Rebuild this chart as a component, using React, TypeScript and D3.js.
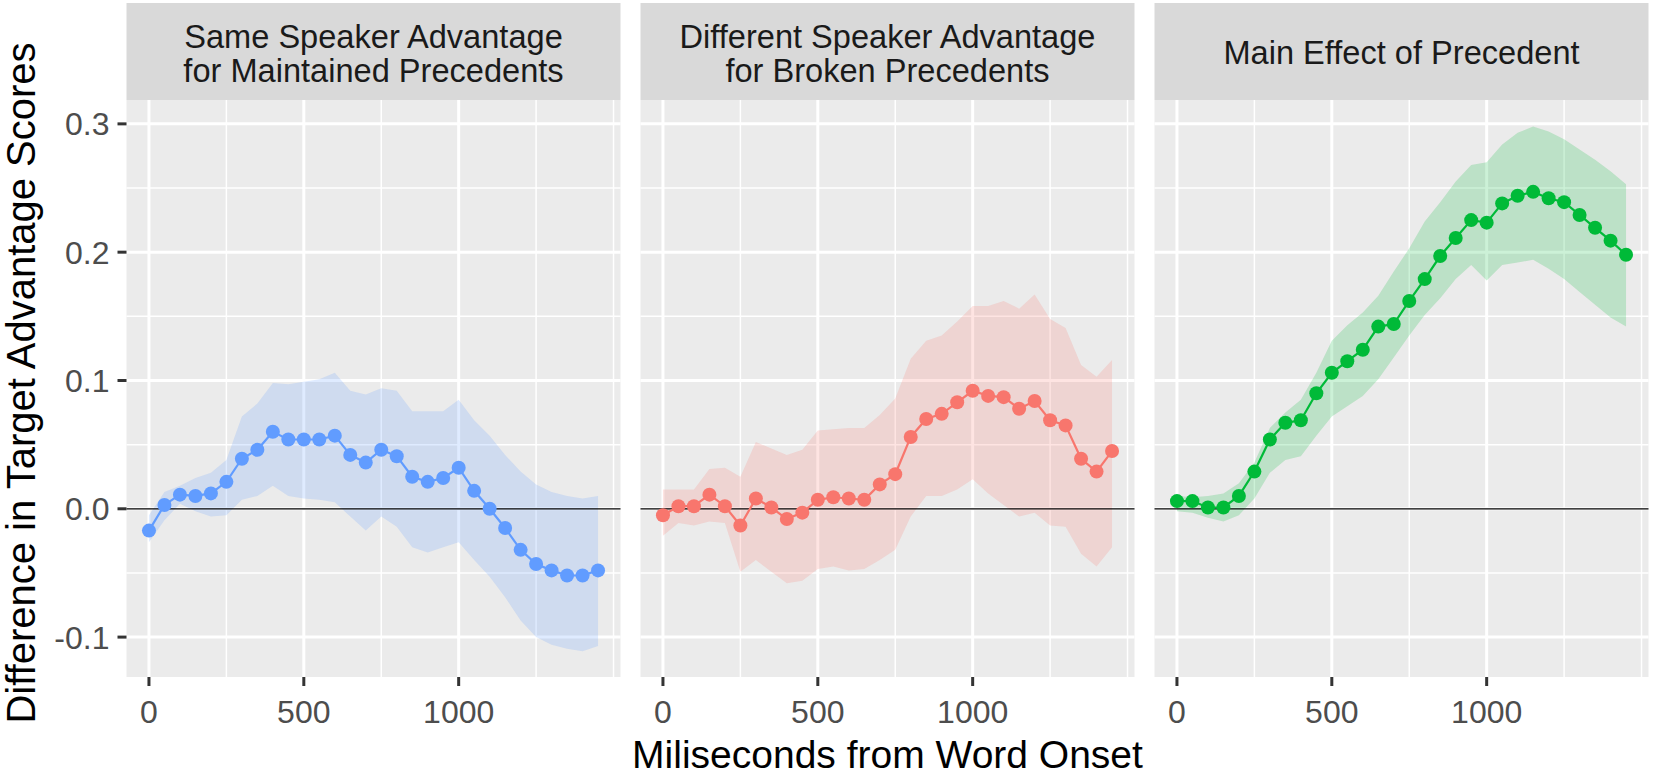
import React from 'react'
import * as d3 from 'd3'

const W = 1655
const H = 781

// time bins (ms from word onset)
const times = [0, 50, 100, 150, 200, 250, 300, 350, 400, 450, 500, 550, 600, 650, 700, 750, 800, 850, 900, 950, 1000, 1050, 1100, 1150, 1200, 1250, 1300, 1350, 1400, 1450]

// Same speaker advantage for maintained precedents
const sameMean = [-0.017, 0.003, 0.011, 0.010, 0.012, 0.021, 0.039, 0.046, 0.060, 0.054, 0.054, 0.054, 0.057, 0.042, 0.036, 0.046, 0.041, 0.025, 0.021, 0.024, 0.032, 0.014, 0.000, -0.015, -0.032, -0.043, -0.048, -0.052, -0.052, -0.048]
const sameLower = [-0.026, -0.009, 0.004, -0.002, -0.006, -0.005, 0.007, 0.010, 0.018, 0.010, 0.008, 0.007, 0.005, -0.006, -0.017, -0.006, -0.014, -0.030, -0.034, -0.030, -0.026, -0.040, -0.053, -0.069, -0.087, -0.100, -0.106, -0.109, -0.111, -0.107]
const sameUpper = [-0.005, 0.013, 0.018, 0.024, 0.028, 0.038, 0.072, 0.082, 0.098, 0.097, 0.099, 0.101, 0.106, 0.092, 0.089, 0.094, 0.092, 0.076, 0.076, 0.076, 0.085, 0.069, 0.057, 0.042, 0.029, 0.019, 0.013, 0.010, 0.008, 0.010]

// Different speaker advantage for broken precedents
const diffMean = [-0.005, 0.002, 0.002, 0.011, 0.002, -0.013, 0.008, 0.001, -0.008, -0.003, 0.007, 0.009, 0.008, 0.007, 0.019, 0.027, 0.056, 0.070, 0.074, 0.083, 0.092, 0.088, 0.087, 0.078, 0.084, 0.069, 0.065, 0.039, 0.029, 0.045]
const diffLower = [-0.021, -0.011, -0.013, -0.010, -0.011, -0.049, -0.040, -0.049, -0.058, -0.056, -0.047, -0.045, -0.048, -0.047, -0.040, -0.032, -0.006, 0.010, 0.010, 0.015, 0.023, 0.012, 0.003, -0.006, -0.003, -0.013, -0.014, -0.035, -0.045, -0.030]
const diffUpper = [0.015, 0.015, 0.015, 0.031, 0.032, 0.025, 0.052, 0.047, 0.042, 0.046, 0.061, 0.062, 0.063, 0.063, 0.073, 0.086, 0.117, 0.131, 0.135, 0.146, 0.158, 0.158, 0.162, 0.156, 0.167, 0.148, 0.141, 0.112, 0.103, 0.116]

// Main effect of precedent
const mainMean = [0.006, 0.006, 0.001, 0.001, 0.010, 0.029, 0.054, 0.067, 0.069, 0.090, 0.106, 0.115, 0.124, 0.142, 0.144, 0.162, 0.179, 0.197, 0.211, 0.225, 0.223, 0.238, 0.244, 0.247, 0.242, 0.239, 0.229, 0.219, 0.209, 0.198]
const mainLower = [-0.002, -0.003, -0.007, -0.010, -0.005, 0.008, 0.028, 0.038, 0.041, 0.057, 0.072, 0.080, 0.088, 0.101, 0.118, 0.135, 0.151, 0.164, 0.179, 0.190, 0.178, 0.190, 0.192, 0.194, 0.187, 0.179, 0.169, 0.159, 0.149, 0.142]
const mainUpper = [0.010, 0.009, 0.010, 0.012, 0.020, 0.036, 0.063, 0.075, 0.085, 0.106, 0.131, 0.143, 0.153, 0.166, 0.185, 0.203, 0.224, 0.239, 0.255, 0.268, 0.270, 0.284, 0.293, 0.298, 0.294, 0.288, 0.280, 0.272, 0.263, 0.253]

const panelTitles = [
  ['Same Speaker Advantage', 'for Maintained Precedents'],
  ['Different Speaker Advantage', 'for Broken Precedents'],
  ['Main Effect of Precedent'],
]
const panelColors = ['#619CFF', '#F8766D', '#00BA38']

const yTicks = [-0.1, 0, 0.1, 0.2, 0.3]
const yTickLabels = ['-0.1', '0.0', '0.1', '0.2', '0.3']
const yMinor = [-0.05, 0.05, 0.15, 0.25]
const xTicks = [0, 500, 1000]
const xTickLabels = ['0', '500', '1000']
const xMinor = [250, 750, 1250, 1500]

const yTitle = 'Difference in Target Advantage Scores'
const xTitle = 'Miliseconds from Word Onset'

const panels = [
  { mean: sameMean, lower: sameLower, upper: sameUpper },
  { mean: diffMean, lower: diffLower, upper: diffUpper },
  { mean: mainMean, lower: mainLower, upper: mainUpper },
]

const FONT = '"Liberation Sans", Arial, sans-serif'

export default function App() {
  const panelLefts = [126.5, 640.5, 1154.5]
  const panelW = 494
  const stripTop = 3
  const top = 100
  const bottom = 677

  const y = d3.scaleLinear().domain([-0.1311, 0.3186]).range([bottom, top])
  const x = d3.scaleLinear().domain([-72.5, 1522.5]).range([0, panelW])

  return (
    <svg width={W} height={H} viewBox={`0 0 ${W} ${H}`}
      style={{ position: 'absolute', left: 0, top: 0, background: '#fff' }}
      fontFamily={FONT}>
      <rect x={0} y={0} width={W} height={H} fill="#fff" />
      {panels.map((p, k) => {
        const left = panelLefts[k]
        const color = panelColors[k]
        const idx = d3.range(times.length)
        const ribbon = d3.area<number>()
          .x(i => x(times[i]))
          .y0(i => y(p.lower[i]))
          .y1(i => y(p.upper[i]))
        const line = d3.line<number>()
          .x(i => x(times[i]))
          .y(i => y(p.mean[i]))
        const lines = panelTitles[k]
        return (
          <g key={k}>
            {/* strip */}
            <rect x={left} y={stripTop} width={panelW} height={top - stripTop} fill="#D9D9D9" />
            {lines.map((t, j) => (
              <text key={j} x={left + panelW / 2}
                y={lines.length === 2 ? (j === 0 ? 47.5 : 81.5) : 63.5}
                textAnchor="middle" fontSize={32.6} fill="#1A1A1A">{t}</text>
            ))}
            <g transform={`translate(${left},0)`}>
              <rect x={0} y={top} width={panelW} height={bottom - top} fill="#EBEBEB" />
              {yMinor.map(v => (
                <line key={'ym' + v} x1={0} x2={panelW} y1={y(v)} y2={y(v)} stroke="#fff" strokeWidth={1.5} />
              ))}
              {xMinor.map(v => (
                <line key={'xm' + v} x1={x(v)} x2={x(v)} y1={top} y2={bottom} stroke="#fff" strokeWidth={1.5} />
              ))}
              {yTicks.map(v => (
                <line key={'y' + v} x1={0} x2={panelW} y1={y(v)} y2={y(v)} stroke="#fff" strokeWidth={3} />
              ))}
              {xTicks.map(v => (
                <line key={'x' + v} x1={x(v)} x2={x(v)} y1={top} y2={bottom} stroke="#fff" strokeWidth={3} />
              ))}
              <path d={ribbon(idx) || ''} fill={color} fillOpacity={0.2} />
              <line x1={0} x2={panelW} y1={y(0)} y2={y(0)} stroke="#000" strokeWidth={1.3} />
              <path d={line(idx) || ''} fill="none" stroke={color} strokeWidth={2.2} />
              {idx.map(i => (
                <circle key={i} cx={x(times[i])} cy={y(p.mean[i])} r={7} fill={color} />
              ))}
              {/* x axis */}
              {xTicks.map((v, j) => (
                <g key={'xt' + v}>
                  <line x1={x(v)} x2={x(v)} y1={bottom} y2={bottom + 9} stroke="#333" strokeWidth={3} />
                  <text x={x(v)} y={723} textAnchor="middle" fontSize={32} fill="#4D4D4D">{xTickLabels[j]}</text>
                </g>
              ))}
            </g>
          </g>
        )
      })}
      {/* y axis, first panel only */}
      {yTicks.map((v, j) => (
        <g key={'yt' + v}>
          <line x1={panelLefts[0] - 9} x2={panelLefts[0]} y1={y(v)} y2={y(v)} stroke="#333" strokeWidth={3} />
          <text x={panelLefts[0] - 17} y={y(v) + 11.5} textAnchor="end" fontSize={32} fill="#4D4D4D">{yTickLabels[j]}</text>
        </g>
      ))}
      <text transform={`translate(35,383) rotate(-90)`} textAnchor="middle" fontSize={40} fill="#000">{yTitle}</text>
      <text x={(panelLefts[0] + panelLefts[2] + panelW) / 2} y={768} textAnchor="middle" fontSize={39} fill="#000">{xTitle}</text>
    </svg>
  )
}
